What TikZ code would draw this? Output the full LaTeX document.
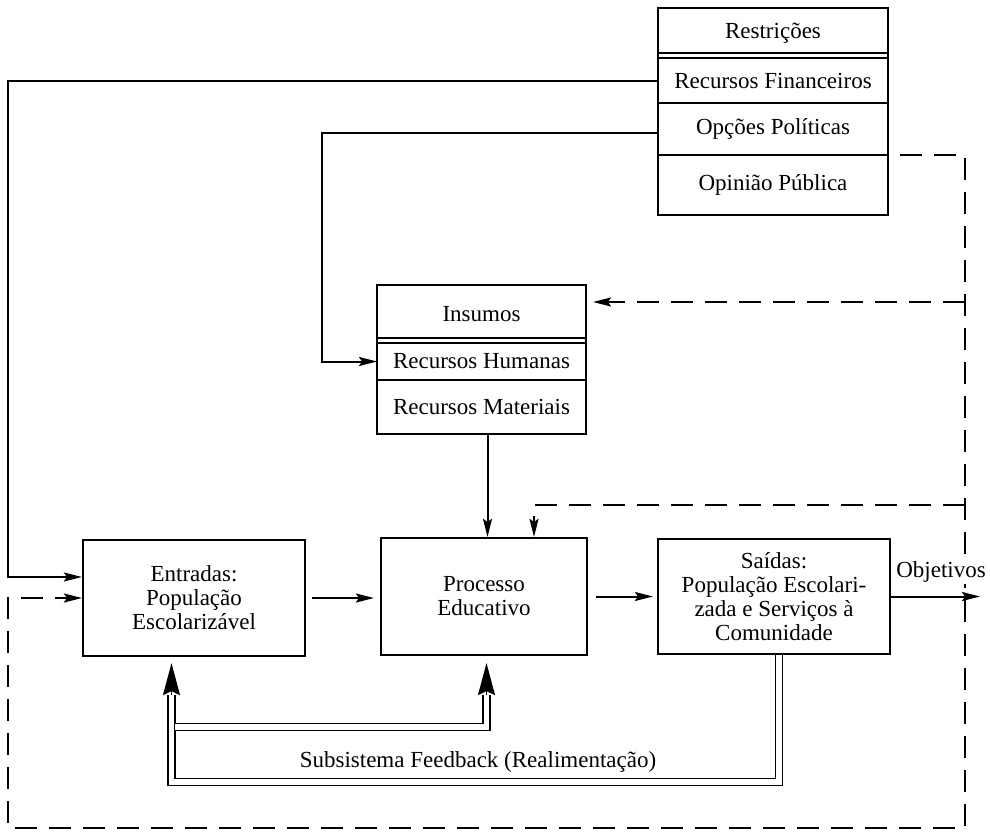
\documentclass[tikz,border=0pt]{standalone}
\usepackage{fontspec}
\setmainfont{Liberation Serif}
\usetikzlibrary{positioning,arrows.meta}

\begin{document}
\begin{tikzpicture}[x=0.5pt, y=-0.5pt,
    font=\fontsize{11.5}{12}\selectfont,
    cell/.style={draw, line width=1.1pt, minimum width=115pt, inner sep=0pt, outer sep=0pt, align=center},
    box/.style={draw, line width=1.1pt, inner sep=0pt, align=center},
    arr/.style={line width=1pt, -{Stealth[length=9pt,width=4.5pt,inset=1.5pt]}},
    dashline/.style={line width=1pt, dash pattern=on 11pt off 6pt},
    pipe/.style={line width=0.8pt, double, double distance=2.8pt},
    bigarr/.style={line width=0.8pt, -{Stealth[length=16pt,width=8.5pt,inset=2pt]}}]
    \useasboundingbox (0,0) rectangle (990,835);
    \node[cell, minimum height=25pt, anchor=north] (restr) at (773,8) {Restrições};
    \node[cell, minimum height=22.5pt, below=0pt of restr] (fin) {Recursos Financeiros};
    \node[cell, minimum height=26pt, below=0pt of fin] (opc) {Opções Políticas};
    \node[cell, minimum height=30pt, below=0pt of opc] (opin) {Opinião Pública};
    \draw[line width=1.1pt] ([yshift=2.5pt]restr.south west) -- ([yshift=2.5pt]restr.south east);
    \node[cell, minimum width=104.5pt, minimum height=29pt, anchor=north] (ins) at (481.5,285) {Insumos};
    \node[cell, minimum width=104.5pt, minimum height=18.5pt, below=0pt of ins] (hum) {Recursos Humanas};
    \node[cell, minimum width=104.5pt, minimum height=27pt, below=0pt of hum] (mat) {Recursos Materiais};
    \draw[line width=1.1pt] ([yshift=2.5pt]ins.south west) -- ([yshift=2.5pt]ins.south east);
    \node[box, minimum width=111pt, minimum height=58pt] (ent) at (194,598) {Entradas:\\População\\Escolarizável};
    \node[box, minimum width=103pt, minimum height=58.5pt] (proc) at (484,596.5) {Processo\\Educativo};
    \node[box, minimum width=116pt, minimum height=57.5pt] (sai) at (774,596.5) {Saídas:\\População Escolari-\\zada e Serviços à\\Comunidade};
    \node (fbtxt) at (478,762) {Subsistema Feedback (Realimentação)};
    \coordinate (lc) at (8,0);
    \coordinate (mc) at (322,0);
    \coordinate (rd) at (965,0);
    \coordinate (bd) at (0,828);
    \coordinate (pd) at (0,505);
    \coordinate (obj) at (980,596.5);
    \coordinate (fb) at (0,782);
    \coordinate (fm) at (0,727);
    \coordinate (ea) at (0,695);
    \coordinate (fl) at (171.5,0);
    \coordinate (fr) at (486.5,0);
    \draw[arr] (fin.west) -- (fin.west -| lc) |- ([yshift=10.5pt]ent.west);
    \draw[arr] ([yshift=-2pt]opc.west) -| (mc |- hum.west) -- (hum.west);
    \draw[arr] ([xshift=3pt]mat.south) -- ([xshift=3pt]mat.south |- proc.north);
    \draw[arr, shorten <=3pt, shorten >=3pt] (ent.east) -- (ent.east -| proc.west);
    \draw[arr, shorten <=4pt, shorten >=2pt] (proc.east) -- (proc.east -| sai.west);
    \draw[dashline, arr] ([xshift=6pt]opc.south east) -| (rd |- bd) -| (lc |- ent.west) -- (ent.west);
    \draw[dashline, arr, shorten >=3.5pt] ([yshift=6pt]ins.east -| rd) -- ([yshift=6pt]ins.east);
    \draw[dashline, arr] (rd |- pd) -| ([xshift=25pt]proc.north);
    \node[fill=white, inner sep=1pt] (objlbl) at (941,572) {Objetivos};
    \draw[arr] (sai.east) -- (obj);
    \draw[pipe] ([xshift=2.5pt]sai.south) |- (fl |- fb) -- (fl |- ea);
    \draw[bigarr] (fl |- ea) -- ([yshift=-3pt]ent.south -| fl);
    \draw[pipe] ([xshift=1.5pt]fl |- fm) -| (fr |- ea);
    \draw[bigarr] (fr |- ea) -- ([yshift=-3.5pt]proc.south -| fr);
\end{tikzpicture}
\end{document}
